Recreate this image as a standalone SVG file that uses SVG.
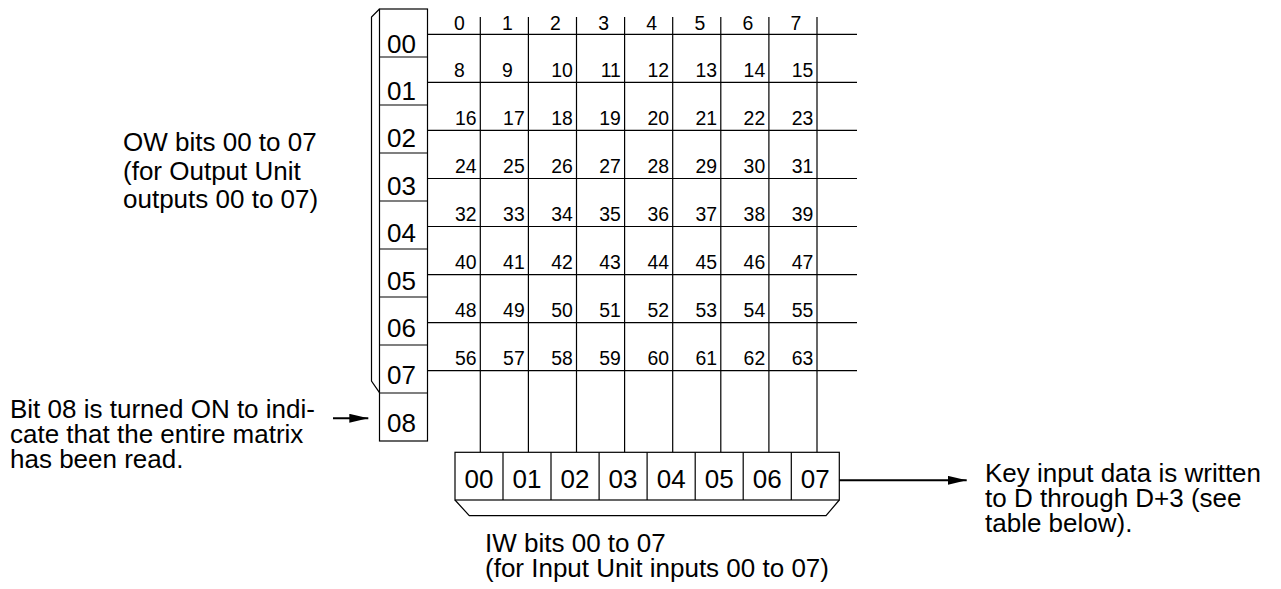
<svg xmlns="http://www.w3.org/2000/svg" width="1281" height="589" viewBox="0 0 1281 589">
<style>
.ln{stroke:#000;stroke-width:1.2;fill:none}
.bx{stroke:#000;stroke-width:1.2;fill:#fff}
.ar{stroke:#000;stroke-width:2;fill:none}
.n{font-family:"Liberation Sans",Arial,sans-serif;font-size:19.4px;fill:#000;text-anchor:end}
.nc{text-anchor:middle}
.r{font-family:"Liberation Sans",Arial,sans-serif;font-size:26px;fill:#000}
.rc{text-anchor:middle}
.t{font-family:"Liberation Sans",Arial,sans-serif;font-size:26px;fill:#000}
</style>
<defs>
<marker id="ah" markerUnits="userSpaceOnUse" markerWidth="20" markerHeight="10" refX="19" refY="4.5" orient="auto">
<path d="M0,0 L19,4.5 L0,9 Z" fill="#000"/>
</marker>
</defs>
<rect width="1281" height="589" fill="#fff"/>

<g id="ow-register">
<polyline class="ln" points="379.5,9 371.5,17 371.5,381 379.5,392.7"/>
<rect class="bx" x="379.5" y="9" width="48" height="432"/>
<path class="ln" d="M379.5,57H427.5M379.5,105H427.5M379.5,153H427.5M379.5,201H427.5M379.5,249H427.5M379.5,297H427.5M379.5,345H427.5M379.5,393H427.5"/>
<text class="r" x="387" y="52.5">00</text>
<text class="r" x="387" y="99.9">01</text>
<text class="r" x="387" y="147.3">02</text>
<text class="r" x="387" y="194.7">03</text>
<text class="r" x="387" y="242.1">04</text>
<text class="r" x="387" y="289.5">05</text>
<text class="r" x="387" y="336.9">06</text>
<text class="r" x="387" y="384.3">07</text>
<text class="r" x="387" y="431.7">08</text>
</g>

<g id="matrix">
<path class="ln" d="M427.5,34.3H857M427.5,82.4H857M427.5,130.4H857M427.5,178.5H857M427.5,226.5H857M427.5,274.6H857M427.5,322.7H857M427.5,370.7H857"/>
<path class="ln" d="M480.3,17V452.3M528.4,17V452.3M576.5,17V452.3M624.6,17V452.3M672.7,17V452.3M720.8,17V452.3M768.9,17V452.3M817,17V452.3"/>
<g class="n nc">
<text x="459.3" y="30">0</text><text x="507.4" y="30">1</text><text x="555.5" y="30">2</text><text x="603.6" y="30">3</text><text x="651.7" y="30">4</text><text x="699.8" y="30">5</text><text x="747.9" y="30">6</text><text x="796" y="30">7</text>
<text x="459.3" y="77.1">8</text><text x="507.4" y="77.1">9</text>
</g>
<g class="n">
<text x="572.8" y="77.1">10</text><text x="620.9" y="77.1">11</text><text x="669" y="77.1">12</text><text x="717.1" y="77.1">13</text><text x="765.2" y="77.1">14</text><text x="813.3" y="77.1">15</text>
<text x="476.6" y="125.1">16</text><text x="524.7" y="125.1">17</text><text x="572.8" y="125.1">18</text><text x="620.9" y="125.1">19</text><text x="669" y="125.1">20</text><text x="717.1" y="125.1">21</text><text x="765.2" y="125.1">22</text><text x="813.3" y="125.1">23</text>
<text x="476.6" y="173.2">24</text><text x="524.7" y="173.2">25</text><text x="572.8" y="173.2">26</text><text x="620.9" y="173.2">27</text><text x="669" y="173.2">28</text><text x="717.1" y="173.2">29</text><text x="765.2" y="173.2">30</text><text x="813.3" y="173.2">31</text>
<text x="476.6" y="221.2">32</text><text x="524.7" y="221.2">33</text><text x="572.8" y="221.2">34</text><text x="620.9" y="221.2">35</text><text x="669" y="221.2">36</text><text x="717.1" y="221.2">37</text><text x="765.2" y="221.2">38</text><text x="813.3" y="221.2">39</text>
<text x="476.6" y="269.3">40</text><text x="524.7" y="269.3">41</text><text x="572.8" y="269.3">42</text><text x="620.9" y="269.3">43</text><text x="669" y="269.3">44</text><text x="717.1" y="269.3">45</text><text x="765.2" y="269.3">46</text><text x="813.3" y="269.3">47</text>
<text x="476.6" y="317.4">48</text><text x="524.7" y="317.4">49</text><text x="572.8" y="317.4">50</text><text x="620.9" y="317.4">51</text><text x="669" y="317.4">52</text><text x="717.1" y="317.4">53</text><text x="765.2" y="317.4">54</text><text x="813.3" y="317.4">55</text>
<text x="476.6" y="365.4">56</text><text x="524.7" y="365.4">57</text><text x="572.8" y="365.4">58</text><text x="620.9" y="365.4">59</text><text x="669" y="365.4">60</text><text x="717.1" y="365.4">61</text><text x="765.2" y="365.4">62</text><text x="813.3" y="365.4">63</text>
</g>
</g>

<g id="iw-register">
<polyline class="ln" points="455,500 469.3,515.7 826,515.7 839.3,500"/>
<rect class="bx" x="455" y="452.3" width="384.3" height="47.7"/>
<path class="ln" d="M503,452.3V500M551,452.3V500M599.1,452.3V500M647.1,452.3V500M695.2,452.3V500M743.2,452.3V500M791.3,452.3V500"/>
<g class="r rc">
<text x="479" y="488.3">00</text><text x="527" y="488.3">01</text><text x="575" y="488.3">02</text><text x="623" y="488.3">03</text><text x="671.2" y="488.3">04</text><text x="719.2" y="488.3">05</text><text x="767.3" y="488.3">06</text><text x="815.3" y="488.3">07</text>
</g>
</g>

<g id="label-ow">
<text class="t" x="123" y="151">OW bits 00 to 07</text>
<text class="t" x="123" y="179.5">(for Output Unit</text>
<text class="t" x="123" y="208">outputs 00 to 07)</text>
</g>
<g id="label-bit08">
<text class="t" x="10" y="417.7">Bit 08 is turned ON to indi-</text>
<text class="t" x="10" y="442.7">cate that the entire matrix</text>
<text class="t" x="10" y="467.7">has been read.</text>
</g>
<g id="label-iw">
<text class="t" x="485" y="551.7">IW bits 00 to 07</text>
<text class="t" x="485" y="576.7">(for Input Unit inputs 00 to 07)</text>
</g>
<g id="label-key">
<text class="t" x="985" y="482.3">Key input data is written</text>
<text class="t" x="985" y="507.3">to D through D+3 (see</text>
<text class="t" x="985" y="532">table below).</text>
</g>

<g id="connectors">
<line class="ar" x1="333" y1="418.3" x2="368.3" y2="418.3" marker-end="url(#ah)"/>
<line class="ar" x1="839.3" y1="480.3" x2="966.7" y2="480.3" marker-end="url(#ah)"/>
</g>
</svg>
